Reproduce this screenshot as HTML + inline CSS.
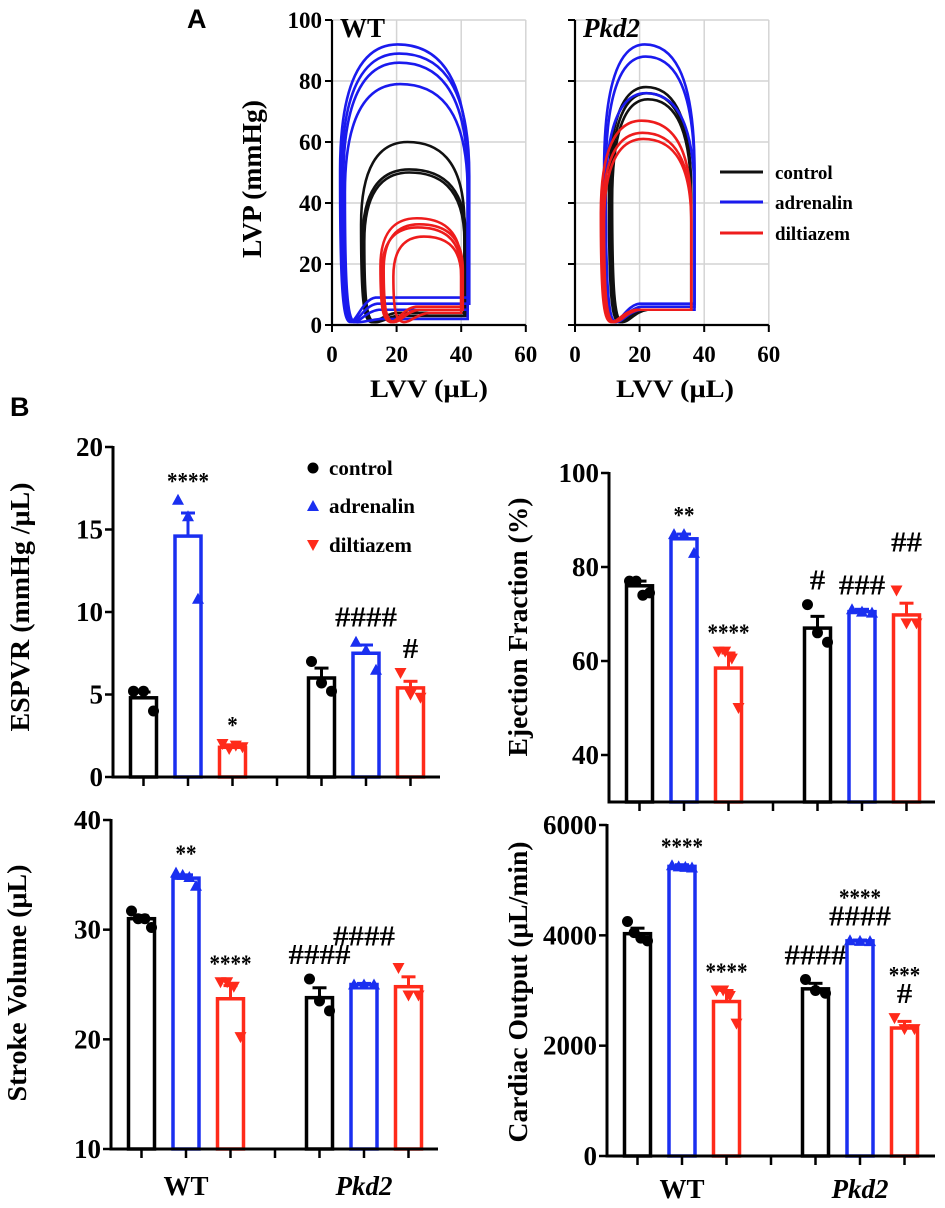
<!DOCTYPE html>
<html><head><meta charset="utf-8"><style>
html,body{margin:0;padding:0;background:#fff;}
svg{display:block;font-family:"Liberation Serif",serif;}
</style></head><body>
<svg id="fig" width="945" height="1208" viewBox="0 0 945 1208">
<text x="187" y="28" font-family="Liberation Sans, sans-serif" font-weight="bold" font-size="27">A</text>
<text x="10" y="416" font-family="Liberation Sans, sans-serif" font-weight="bold" font-size="27">B</text>
</svg>
<script>
// ---------- PV loop data: [ESV, EDV, Pmax, EDP] ----------
const wtControlLoops=[[9,41,60,4],[9.5,41.5,51,3],[10,41,50,3]];
const wtAdrenalinLoops=[[2.5,42,92,9],[3,42.5,89,7],[3.5,42,86,5],[4,42,79,2]];
const wtDiltiazemLoops=[[15,40,35,6],[16,40.5,33,5],[15.5,40,32,5],[19,40,29,4]];
const pkdControlLoops=[[10.5,36,78,5],[11,36,76,5],[11.5,36,74,5]];
const pkdAdrenalinLoops=[[9,37,92,7],[9.5,37,88,6],[9.5,37,76,5]];
const pkdDiltiazemLoops=[[8,36,67,5],[8.5,36,63,5],[9,36,61,5]];
const loopXTicks=[0,20,40,60];
const loopYTicks=[0,20,40,60,80,100];
const seriesNames=["control","adrenalin","diltiazem"];

// ---------- bar chart data ----------
const espvrMeans=[4.8,14.6,1.8,6.0,7.5,5.4];
const espvrSem=[0.35,1.4,0.15,0.6,0.5,0.4];
const espvrPts=[[5.2,5.2,4.0],[16.8,15.8,10.8],[2.0,1.7,1.9,1.8],[7.0,5.7,5.2],[8.2,7.7,6.5],[6.3,5.0,4.8]];
const espvrAnn=[[],["****"],["*"],[],["####"],["#"]];
const espvrTicks=[0,5,10,15,20];

const efMeans=[76,86,58.5,67,70.5,69.8];
const efSem=[1,1,3.2,2.5,0.5,2.5];
const efPts=[[77,77,74,74.5],[87,87,83],[62,62,60.5,50],[72,66,64],[71,70.5,70.3],[75,68,68]];
const efAnn=[[],["**"],["****"],["#"],["###"],["","##"]];
const efTicks=[40,60,80,100];

const svMeans=[31,34.7,23.7,23.8,25,24.8];
const svSem=[0.3,0.3,1.2,0.9,0.1,0.9];
const svPts=[[31.7,31,31,30.2],[35.2,35,34.8,34],[25.2,25.2,24.8,20.2],[25.5,23.5,22.6],[25,25,25],[26.5,24,24]];
const svAnn=[[],["**"],["****"],["####"],["","####"],[]];
const svTicks=[10,20,30,40];

const coMeans=[4030,5250,2800,3030,3900,2320];
const coSem=[100,30,200,100,15,120];
const coPts=[[4250,4050,3950,3900],[5270,5250,5240,5230],[3000,3000,2900,2400],[3200,3000,2950],[3910,3900,3895],[2500,2300,2300]];
const coAnn=[[],["****"],["****"],["####"],["####","****"],["#","***"]];
const coTicks=[0,2000,4000,6000];

const groupLabels=["WT","Pkd2"];
</script>
<script>
const NS="http://www.w3.org/2000/svg";
const svg=document.getElementById("fig");
const COLORS=["#000000","#1a2ff0","#ff2a1a"];
const LOOPCOL=["#111111","#1a1aee","#ee1c1c"];
function mk(tag,attrs,parent){const e=document.createElementNS(NS,tag);for(const k in attrs)e.setAttribute(k,attrs[k]);(parent||svg).appendChild(e);return e;}

// ---------- PV loop panels ----------
function loopPanel(x0,name,label,italic,groups){
  const g=mk("g",{});
  
  
  const xs=3.23,y0=325,ys=3.05;
  const X=v=>x0+v*xs, Y=v=>y0-v*ys;
  // gridlines
  loopXTicks.forEach(t=>{ if(t>0){const l=mk("line",{x1:X(t),x2:X(t),y1:Y(0),y2:Y(100),stroke:"#d4d4d4","stroke-width":1.5},g);
    
    }});
  loopYTicks.forEach(t=>{ if(t>0){const l=mk("line",{x1:X(0),x2:X(60),y1:Y(t),y2:Y(t),stroke:"#d4d4d4","stroke-width":1.5},g);
    
    }});
  // loops
  groups.forEach((loops,si)=>{
    loops.forEach(L=>{
      const [esv,edv,pm,edp]=L; const xm=esv+0.45*(edv-esv);
      const d=`M${X(edv)},${Y(edp)} L${X(edv)},${Y(0.55*pm)} C${X(edv)},${Y(0.92*pm)} ${X(xm+(edv-xm)*0.5)},${Y(pm)} ${X(xm)},${Y(pm)} `+
        `C${X(esv+(xm-esv)*0.35)},${Y(pm)} ${X(esv)},${Y(0.85*pm)} ${X(esv)},${Y(0.55*pm)} `+
        `C${X(esv)},${Y(0.15*pm)} ${X(esv+0.8)},${Y(1.5)} ${X(esv+3)},${Y(1)} `+
        `C${X(esv+5)},${Y(0.6)} ${X(esv+7)},${Y(edp-0.5)} ${X(esv+11)},${Y(edp)} L${X(edv)},${Y(edp)} Z`;
      const p=mk("path",{d:d,fill:"none",stroke:LOOPCOL[si],"stroke-width":2.6},g);
      
      
    });
  });
  // axes
  const ya=mk("line",{x1:X(0),x2:X(0),y1:Y(0),y2:Y(100),stroke:"#000","stroke-width":2.2},g);
  
  
  const xa=mk("line",{x1:X(0),x2:X(60),y1:Y(0),y2:Y(0),stroke:"#000","stroke-width":2.2},g);
  
  
  loopYTicks.forEach(t=>{
    const l=mk("line",{x1:X(0)-7,x2:X(0),y1:Y(t),y2:Y(t),stroke:"#000","stroke-width":2},g);
    
    
    if(label){const tx=mk("text",{x:X(0)-10,y:Y(t)+8,"text-anchor":"end","font-weight":"bold","font-size":23},g);tx.textContent=t;
      
      }
  });
  loopXTicks.forEach(t=>{
    const l=mk("line",{x1:X(t),x2:X(t),y1:Y(0),y2:Y(0)+7,stroke:"#000","stroke-width":2},g);
    
    
    const tx=mk("text",{x:X(t),y:362,"text-anchor":"middle","font-weight":"bold","font-size":23},g);tx.textContent=t;
    
    
  });
  const xt=mk("text",{x:X(0)+(label?97:100),y:397,"text-anchor":"middle","font-weight":"bold","font-size":25,textLength:118,lengthAdjust:"spacingAndGlyphs"},g);
  xt.textContent="LVV (μL)";
  
  
  const pt=mk("text",{x:X(0)+8,y:37,"font-weight":"bold","font-size":27,"font-style":italic?"italic":"normal"},g);
  pt.textContent=name==="wt"?"WT":"Pkd2";
  
  
}
loopPanel(332,"wt",true,false,[wtControlLoops,wtAdrenalinLoops,wtDiltiazemLoops]);
loopPanel(575,"pkd2",false,true,[pkdControlLoops,pkdAdrenalinLoops,pkdDiltiazemLoops]);
const lvp=mk("text",{x:0,y:0,transform:"translate(252,179) rotate(-90)","text-anchor":"middle","dominant-baseline":"central","font-weight":"bold","font-size":27,textLength:158,lengthAdjust:"spacingAndGlyphs"});
lvp.textContent="LVP (mmHg)";


// loop legend
[172,202,233].forEach((y,i)=>{
  const l=mk("line",{x1:720,x2:763,y1:y,y2:y,stroke:LOOPCOL[i],"stroke-width":3});
  
  
  const t=mk("text",{x:775,y:y+7,"font-weight":"bold","font-size":19});
  t.textContent=seriesNames[i];
  
  
});

// ---------- bar panels ----------
function marker(kind,cx,cy,color,parent){
  let e;
  if(kind===0){e=mk("circle",{cx:cx,cy:cy,r:5.5,fill:color},parent);}
  else if(kind===1){e=mk("polygon",{points:`${cx},${cy-6} ${cx-6},${cy+5} ${cx+6},${cy+5}`,fill:color},parent);}
  else {e=mk("polygon",{points:`${cx},${cy+6} ${cx-6},${cy-5} ${cx+6},${cy-5}`,fill:color},parent);}
  return e;
}
function barPanel(cfg,means,sems,pts,ann,ticks){
  const g=mk("g",{});
  
  
  const Y=v=>cfg.yMin-(v-cfg.vmin)/(cfg.vmax-cfg.vmin)*(cfg.yMin-cfg.yMax);
  const slot=i=>cfg.ax+30.5+i*44.5;
  const slots=[0,1,2,4,5,6];
  const base=cfg.yMin;
  means.forEach((m,i)=>{
    const cx=slot(slots[i]), col=COLORS[i%3], y=Y(m);
    const r=mk("rect",{x:cx-13,y:y,width:26,height:base-y,fill:"#fff",stroke:col,"stroke-width":3.5},g);
    
    
    const ye=Y(m+sems[i]);
    const e1=mk("line",{x1:cx,x2:cx,y1:y,y2:ye,stroke:col,"stroke-width":3},g);
    
    
    const e2=mk("line",{x1:cx-7,x2:cx+7,y1:ye,y2:ye,stroke:col,"stroke-width":3},g);
    
    
    const n=pts[i].length; let top=Math.min(ye,y);
    pts[i].forEach((v,j)=>{
      const off=n>1?(j-(n-1)/2)*(20/(n-1)):0;
      const mkr=marker(i%3,cx+off,Y(v),col,g);
      
      
      top=Math.min(top,Y(v)-5);
    });
    ann[i].forEach((s,k)=>{
      if(!s)return;
      const isHash=s[0]==="#";
      const t=mk("text",{x:cx,y:top-10-24*k+(isHash?0:4),"text-anchor":"middle","font-weight":"bold","font-size":isHash?29:24,textLength:s.length*(isHash?15.5:10.5),lengthAdjust:"spacingAndGlyphs"},g);
      t.textContent=s;
      
      
    });
  });
  const ya=mk("line",{x1:cfg.ax,x2:cfg.ax,y1:base+1.5,y2:cfg.yTopAxis,stroke:"#000","stroke-width":3},g);
  
  
  const xa=mk("line",{x1:cfg.ax,x2:cfg.xEnd,y1:base,y2:base,stroke:"#000","stroke-width":3},g);
  
  
  for(let s=0;s<7;s++){
    const l=mk("line",{x1:slot(s),x2:slot(s),y1:base,y2:base+9,stroke:"#000","stroke-width":2.5},g);
    
    
  }
  ticks.forEach(t=>{
    const l=mk("line",{x1:cfg.ax-8,x2:cfg.ax,y1:Y(t),y2:Y(t),stroke:"#000","stroke-width":2.5},g);
    
    
    const tx=mk("text",{x:cfg.ax-10,y:Y(t)+9,"text-anchor":"end","font-weight":"bold","font-size":27},g);
    tx.textContent=t;
    
    
  });
  const tt=mk("text",{x:0,y:0,transform:`translate(${cfg.tx},${cfg.tyc}) rotate(-90)`,"text-anchor":"middle","dominant-baseline":"central","font-weight":"bold","font-size":27,textLength:cfg.tlen,lengthAdjust:"spacingAndGlyphs"},g);
  tt.textContent=cfg.title;
  
  
  if(cfg.groupY){
    [1,5].forEach((s,k)=>{
      const t=mk("text",{x:slot(s),y:cfg.groupY,"text-anchor":"middle","font-weight":"bold","font-size":27,"font-style":k?"italic":"normal"},g);
      t.textContent=groupLabels[k];
      
      
    });
  }
}
barPanel({name:"espvr",ax:113,xEnd:440,vmin:0,vmax:20,yMin:777,yMax:447,yTopAxis:446,title:"ESPVR (mmHg /μL)",tx:20,tyc:607,tlen:249},espvrMeans,espvrSem,espvrPts,espvrAnn,espvrTicks);
barPanel({name:"ejection-fraction",ax:609,xEnd:935,vmin:30,vmax:100,yMin:802,yMax:473,yTopAxis:472,title:"Ejection Fraction (%)",tx:518,tyc:627,tlen:259},efMeans,efSem,efPts,efAnn,efTicks);
barPanel({name:"stroke-volume",ax:111,xEnd:438,vmin:10,vmax:40,yMin:1149,yMax:820,yTopAxis:819,title:"Stroke Volume (μL)",tx:17,tyc:983,tlen:237,groupY:1195},svMeans,svSem,svPts,svAnn,svTicks);
barPanel({name:"cardiac-output",ax:607,xEnd:935,vmin:0,vmax:6000,yMin:1156,yMax:825,yTopAxis:824,title:"Cardiac Output (μL/min)",tx:518,tyc:992,tlen:301,groupY:1198},coMeans,coSem,coPts,coAnn,coTicks);

// ESPVR legend
[468,506,545].forEach((y,i)=>{
  const m=marker(i,313,y,COLORS[i],svg);
  
  
  const t=mk("text",{x:329,y:y+7,"font-weight":"bold","font-size":21});
  t.textContent=seriesNames[i];
  
  
});
</script>
</body></html>
